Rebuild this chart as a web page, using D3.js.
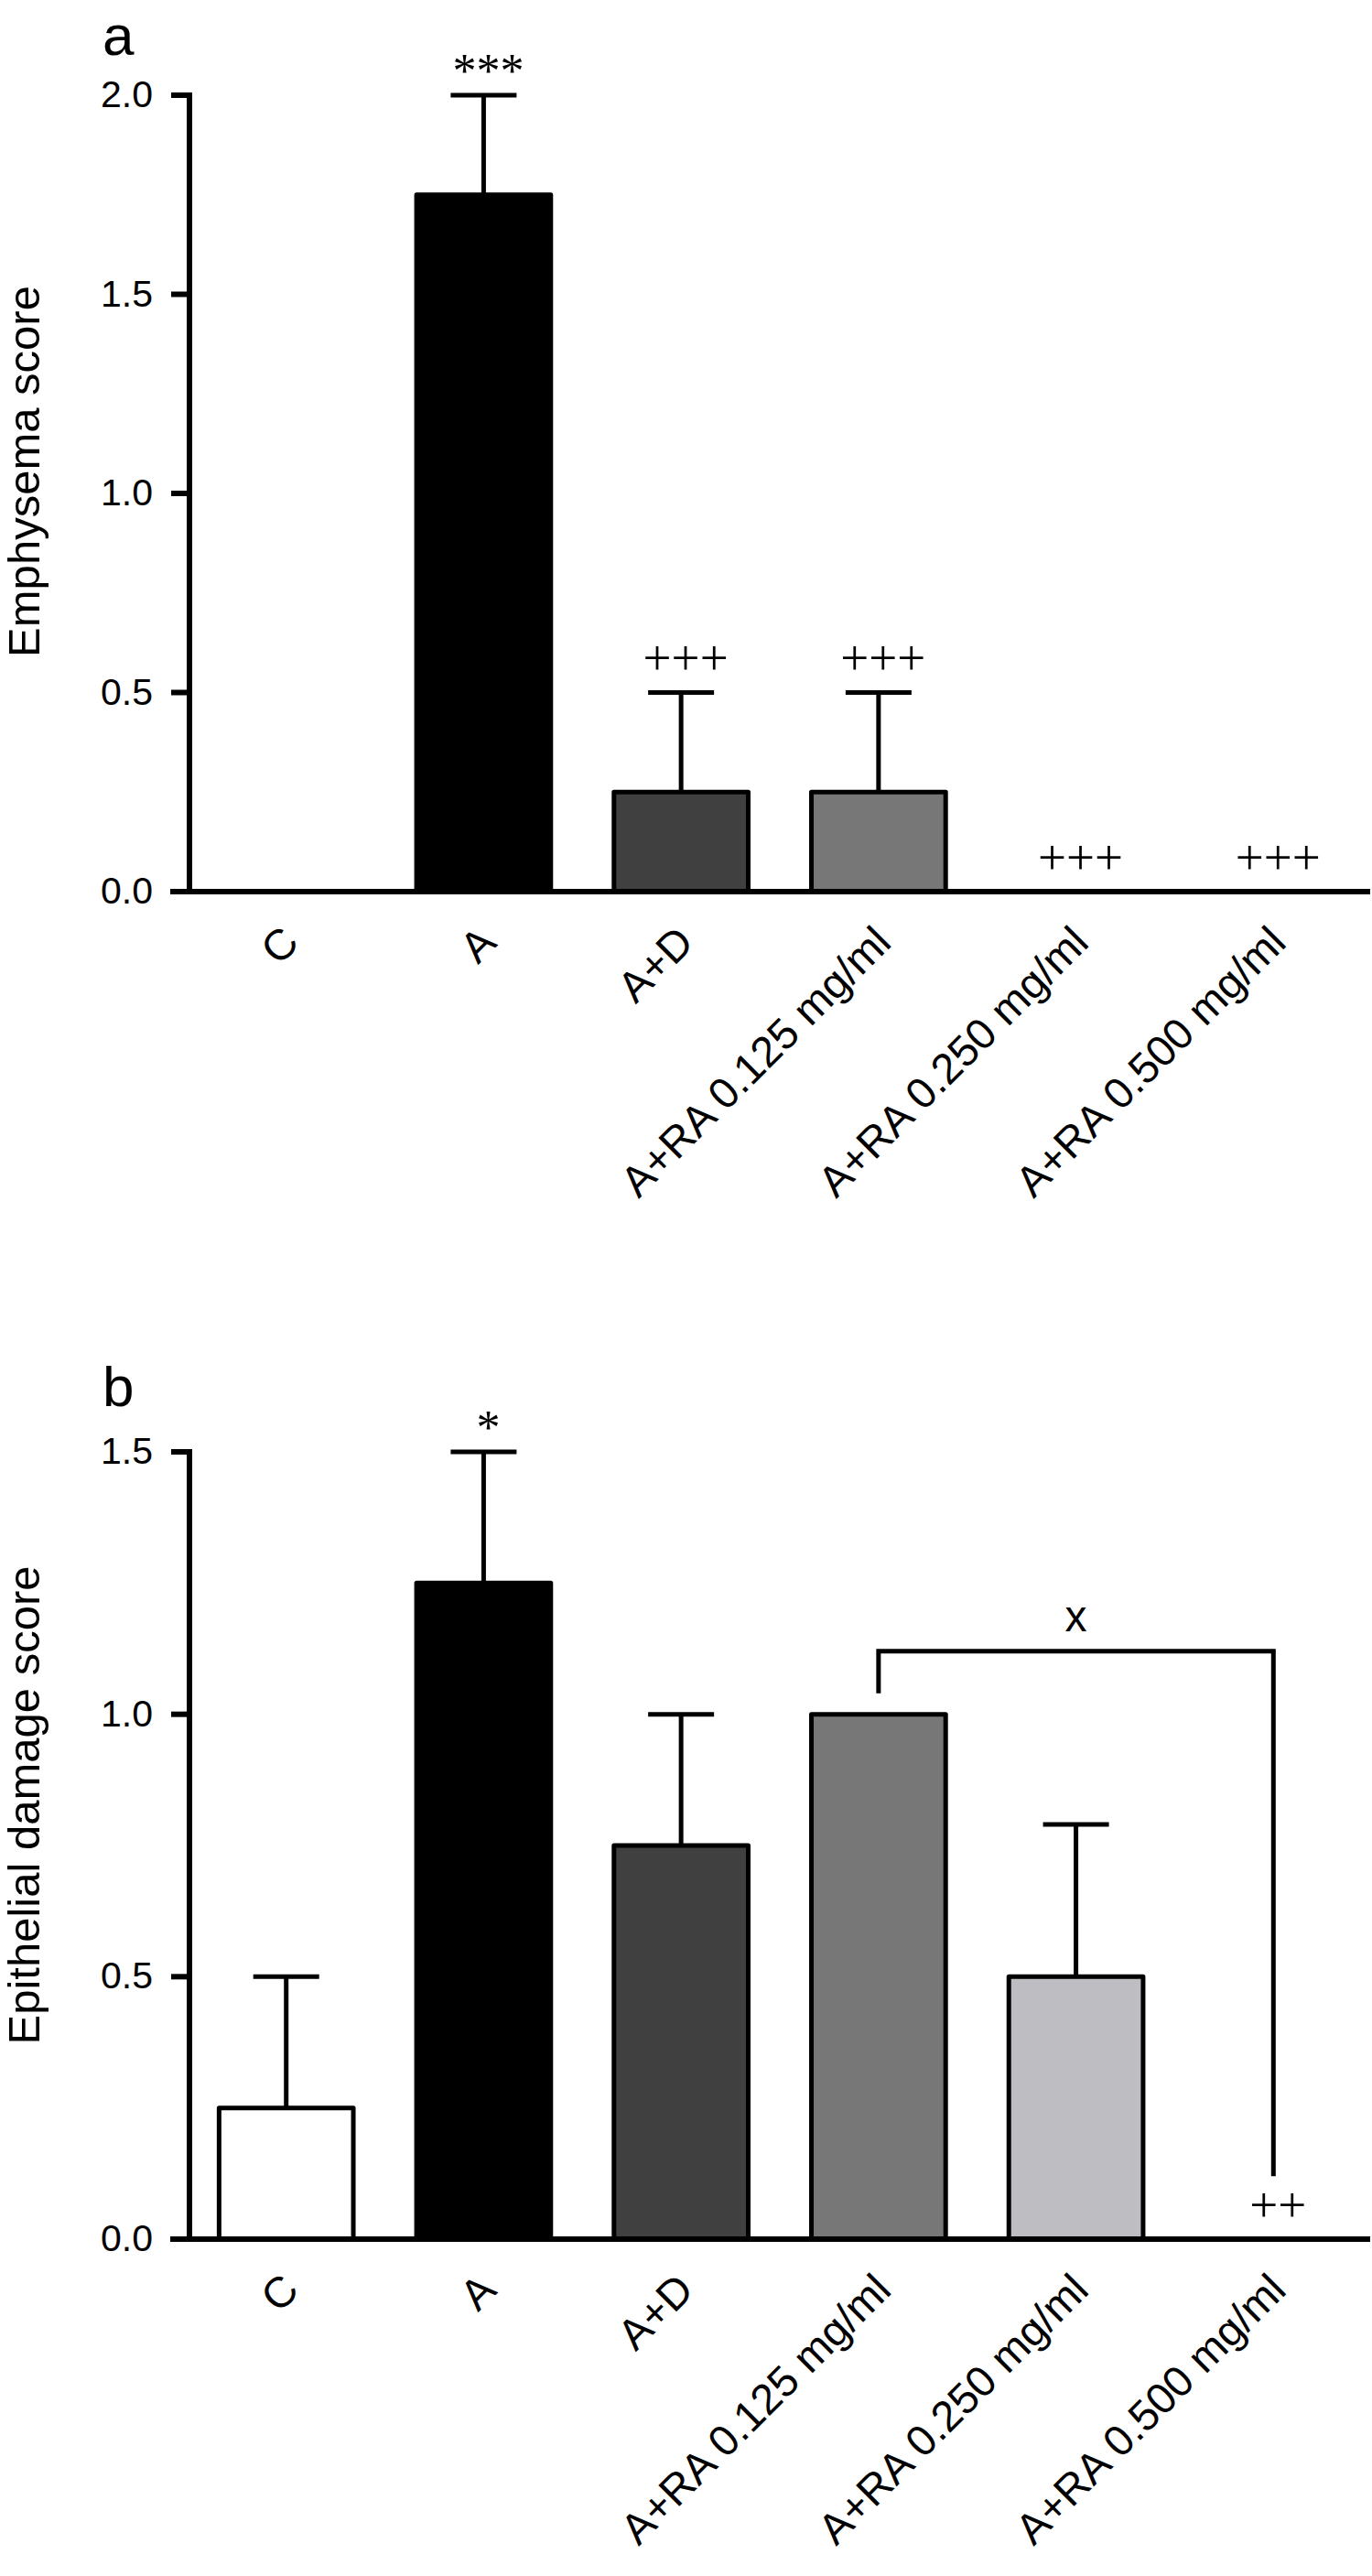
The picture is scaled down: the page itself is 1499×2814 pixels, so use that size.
<!DOCTYPE html>
<html>
<head>
<meta charset="utf-8">
<script src="https://cdnjs.cloudflare.com/ajax/libs/d3/7.8.5/d3.min.js"></script>
<style>
  body { margin: 0; background: #fff; }
  svg { display: block; }
  .tick text, .lbl { font-family: "Liberation Sans", Arial, Helvetica, sans-serif; fill: #000; }
  .mark { font-family: "Liberation Serif", "Times New Roman", serif; fill: #000; }
</style>
</head>
<body>
<div id="chart"></div>
<script>
// groups shared by both panels
const groups = ["C", "A", "A+D", "A+RA 0.125 mg/ml", "A+RA 0.250 mg/ml", "A+RA 0.500 mg/ml"];
const barColors = ["#ffffff", "#000000", "#404040", "#777777", "#bebec2", "#ffffff"];

// panel a - emphysema score
const emphysemaMean = [0, 1.75, 0.25, 0.25, 0, 0];
const emphysemaErr = [0, 0.25, 0.25, 0.25, 0, 0];
const emphysemaMarks = ["", "***", "+++", "+++", "+++", "+++"];
const emphysemaTicks = [0, 0.5, 1.0, 1.5, 2.0];

// panel b - epithelial damage score
const epithelialMean = [0.25, 1.25, 0.75, 1.0, 0.5, 0];
const epithelialErr = [0.25, 0.25, 0.25, 0, 0.29, 0];
const epithelialMarks = ["", "*", "", "", "", "++"];
const epithelialTicks = [0, 0.5, 1.0, 1.5];

// comparison bracket in panel b
const bracketGroups = ["A+RA 0.125 mg/ml", "A+RA 0.500 mg/ml"];
const bracketLevels = [1.04, 1.12, 0.12]; // left end, top, right end
const bracketLabel = "x";

const W = 1499, H = 2814;

const svg = d3.select("#chart")
    .append("svg")
    .attr("width", W)
    .attr("height", H);

svg.append("rect").attr("width", W).attr("height", H).attr("fill", "#fff");

const x = d3.scaleBand()
    .domain(groups)
    .range([207, 1497])
    .paddingInner(0.32)
    .paddingOuter(0.15);

const colour = d3.scaleOrdinal(groups, barColors);

function drawPanel(p) {
    const g = svg.append("g");

    const y = d3.scaleLinear()
        .domain([0, p.max])
        .range([p.bottom, p.top]);

    const data = groups.map((k, i) => ({ key: k, mean: p.mean[i], err: p.err[i], mark: p.marks[i] }));

    // bars
    g.selectAll(".bar")
        .data(data)
        .enter().append("rect")
        .attr("class", "bar")
        .attr("x", d => x(d.key))
        .attr("width", x.bandwidth())
        .attr("y", d => y(d.mean))
        .attr("height", d => y(0) - y(d.mean))
        .attr("fill", d => colour(d.key))
        .attr("stroke", "#000")
        .attr("stroke-width", 5)
        .attr("stroke-linejoin", "round");

    // error bars (upper only)
    const eb = data.filter(d => d.err > 0);
    g.selectAll(".err")
        .data(eb)
        .enter().append("line")
        .attr("x1", d => x(d.key) + x.bandwidth() / 2)
        .attr("x2", d => x(d.key) + x.bandwidth() / 2)
        .attr("y1", d => y(d.mean))
        .attr("y2", d => y(d.mean + d.err))
        .attr("stroke", "#000")
        .attr("stroke-width", 5);
    g.selectAll(".cap")
        .data(eb)
        .enter().append("line")
        .attr("x1", d => x(d.key) + x.bandwidth() / 2 - 36)
        .attr("x2", d => x(d.key) + x.bandwidth() / 2 + 36)
        .attr("y1", d => y(d.mean + d.err))
        .attr("y2", d => y(d.mean + d.err))
        .attr("stroke", "#000")
        .attr("stroke-width", 5);

    // significance marks
    g.selectAll(".mark")
        .data(data.filter(d => d.mark))
        .enter().append("text")
        .attr("class", "mark")
        .attr("text-anchor", "middle")
        .style("font-size", d => (d.mark[0] == "*" ? 52 : 55) + "px")
        .attr("x", d => x(d.key) + x.bandwidth() / 2 + 5)
        .attr("y", d => {
            const c = y(d.mean + d.err) - 33;
            return d.mark[0] == "*" ? c + 0.47 * 52 : c + 0.25 * 55;
        })
        .text(d => d.mark);

    // x axis
    const xa = g.append("g")
        .attr("transform", `translate(0, ${p.bottom})`)
        .call(d3.axisBottom(x).tickSize(0).tickSizeOuter(0).offset(0));
    xa.select(".domain").attr("stroke-width", 6);
    xa.append("line")
        .attr("x1", 186).attr("x2", 207)
        .attr("stroke", "#000").attr("stroke-width", 6);
    xa.selectAll(".tick text")
        .attr("x", 0).attr("y", 0).attr("dy", 0)
        .attr("text-anchor", "end")
        .attr("transform", "translate(16, 58) rotate(-45)")
        .style("font-size", "47px");

    // y axis
    const ya = g.append("g")
        .attr("transform", "translate(207, 0)")
        .call(d3.axisLeft(y).tickValues(p.ticks).tickFormat(d3.format(".1f"))
            .tickSize(20).tickSizeOuter(0).tickPadding(20).offset(0));
    ya.select(".domain").attr("stroke-width", 6).attr("stroke-linecap", "square");
    ya.selectAll(".tick line").attr("stroke-width", 6);
    ya.selectAll(".tick text").style("font-size", "41px");

    // axis title
    g.append("text")
        .attr("class", "lbl")
        .attr("text-anchor", "middle")
        .attr("transform", `translate(43, ${p.titleY}) rotate(-90)`)
        .style("font-size", "49px")
        .text(p.title);

    // panel letter
    g.append("text")
        .attr("class", "lbl")
        .attr("x", 112)
        .attr("y", p.letterY)
        .style("font-size", "62px")
        .text(p.letter);

    return { g: g, y: y };
}

drawPanel({
    mean: emphysemaMean, err: emphysemaErr, marks: emphysemaMarks, ticks: emphysemaTicks,
    max: 2.0, top: 104, bottom: 974, title: "Emphysema score", titleY: 515,
    letter: "a", letterY: 60
});

const pb = drawPanel({
    mean: epithelialMean, err: epithelialErr, marks: epithelialMarks, ticks: epithelialTicks,
    max: 1.5, top: 1586, bottom: 2446, title: "Epithelial damage score", titleY: 1972,
    letter: "b", letterY: 1536
});

// bracket between 0.125 and 0.500 mg/ml
const bx1 = x(bracketGroups[0]) + x.bandwidth() / 2,
    bx2 = x(bracketGroups[1]) + x.bandwidth() / 2;
pb.g.append("path")
    .attr("d", d3.line()([
        [bx1, pb.y(bracketLevels[0])],
        [bx1, pb.y(bracketLevels[1])],
        [bx2, pb.y(bracketLevels[1])],
        [bx2, pb.y(bracketLevels[2])]
    ]))
    .attr("fill", "none")
    .attr("stroke", "#000")
    .attr("stroke-width", 5);
pb.g.append("text")
    .attr("class", "lbl")
    .attr("text-anchor", "middle")
    .attr("x", (bx1 + bx2) / 2)
    .attr("y", pb.y(bracketLevels[1]) - 22)
    .style("font-size", "48px")
    .text(bracketLabel);
</script>
</body>
</html>
